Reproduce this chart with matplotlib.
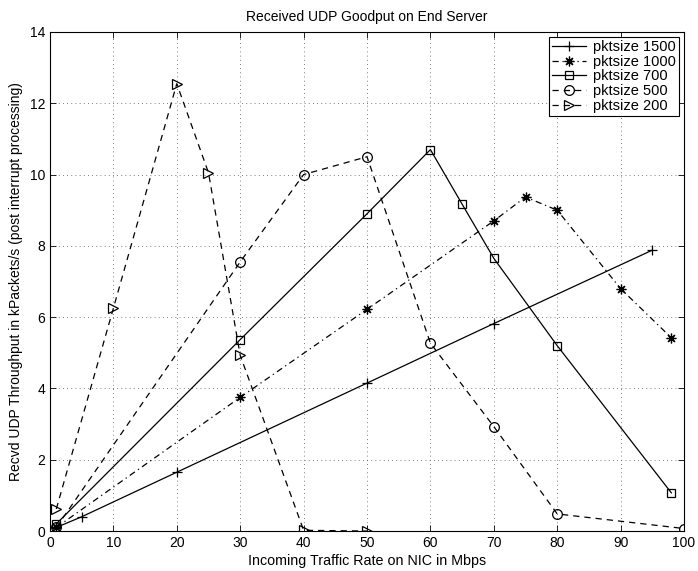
import matplotlib
matplotlib.use("Agg")
import matplotlib.pyplot as plt

plt.rcParams['font.family'] = ['Liberation Sans', 'DejaVu Sans']

# Throughput measurements per packet size
x_1500 = [1, 5, 20, 50, 70, 95]
y_1500 = [0.1, 0.4, 1.65, 4.15, 5.82, 7.88]

x_1000 = [1, 30, 50, 70, 75, 80, 90, 98]
y_1000 = [0.1, 3.75, 6.22, 8.7, 9.37, 9.0, 6.8, 5.42]

x_700 = [1, 30, 50, 60, 65, 70, 80, 98]
y_700 = [0.2, 5.37, 8.9, 10.7, 9.17, 7.65, 5.2, 1.07]

x_500 = [1, 30, 40, 50, 60, 70, 80, 100]
y_500 = [0.1, 7.55, 10.0, 10.5, 5.27, 2.93, 0.48, 0.07]

x_200 = [1, 10, 20, 25, 30, 40, 50]
y_200 = [0.62, 6.25, 12.55, 10.05, 4.93, 0.02, 0.0]

labels = ['pktsize 1500', 'pktsize 1000', 'pktsize 700', 'pktsize 500', 'pktsize 200']
x_ticks = [0, 10, 20, 30, 40, 50, 60, 70, 80, 90, 100]
y_ticks = [0, 2, 4, 6, 8, 10, 12, 14]

fig = plt.figure(figsize=(6.98, 5.71), dpi=100)
ax = fig.add_axes([0.0716, 0.070, 0.9084, 0.874])

lw = 0.9
ax.plot(x_1500, y_1500, color='black', linestyle='-', marker='+', markersize=7,
        markeredgewidth=0.9, linewidth=lw, label=labels[0])
ax.plot(x_1000, y_1000, color='black', linestyle='-.', marker=(8, 2, 0), markersize=7,
        markeredgewidth=0.9, linewidth=lw, label=labels[1], dashes=(5, 3, 1, 3))
ax.plot(x_700, y_700, color='black', linestyle='-', marker='s', markersize=6,
        markerfacecolor='none', markeredgewidth=0.9, linewidth=lw, label=labels[2])
ax.plot(x_500, y_500, color='black', linestyle='--', marker='o', markersize=7,
        markerfacecolor='none', markeredgewidth=0.9, linewidth=lw, label=labels[3],
        dashes=(5, 4))
ax.plot(x_200, y_200, color='black', linestyle='--', marker='>', markersize=7,
        markerfacecolor='none', markeredgewidth=0.9, linewidth=lw, label=labels[4],
        dashes=(5, 4))

ax.set_xlim(0, 100)
ax.set_ylim(0, 14)
ax.set_xticks(x_ticks)
ax.set_yticks(y_ticks)
ax.tick_params(direction='in', top=True, right=True, labelsize=10, length=4, width=0.6)
ax.grid(True, linestyle=(0, (1, 4)), color='#555555', linewidth=0.6)
for s in ax.spines.values():
    s.set_linewidth(0.8)

ax.set_title('Received UDP Goodput on End Server', fontsize=10, pad=8)
ax.set_xlabel('Incoming Traffic Rate on NIC in Mbps', fontsize=10.3, labelpad=3)
ax.set_ylabel('Recvd UDP Throughput in kPackets/s (post interrupt processing)', fontsize=10, labelpad=5)

leg = ax.legend(loc='upper right', fontsize=10.5, frameon=True, fancybox=False,
                edgecolor='black', framealpha=1, borderpad=0.2, labelspacing=0.05,
                handlelength=2.3, handletextpad=0.5, borderaxespad=0.35)
leg.get_frame().set_linewidth(0.8)

fig.savefig('out.png', dpi=100)
